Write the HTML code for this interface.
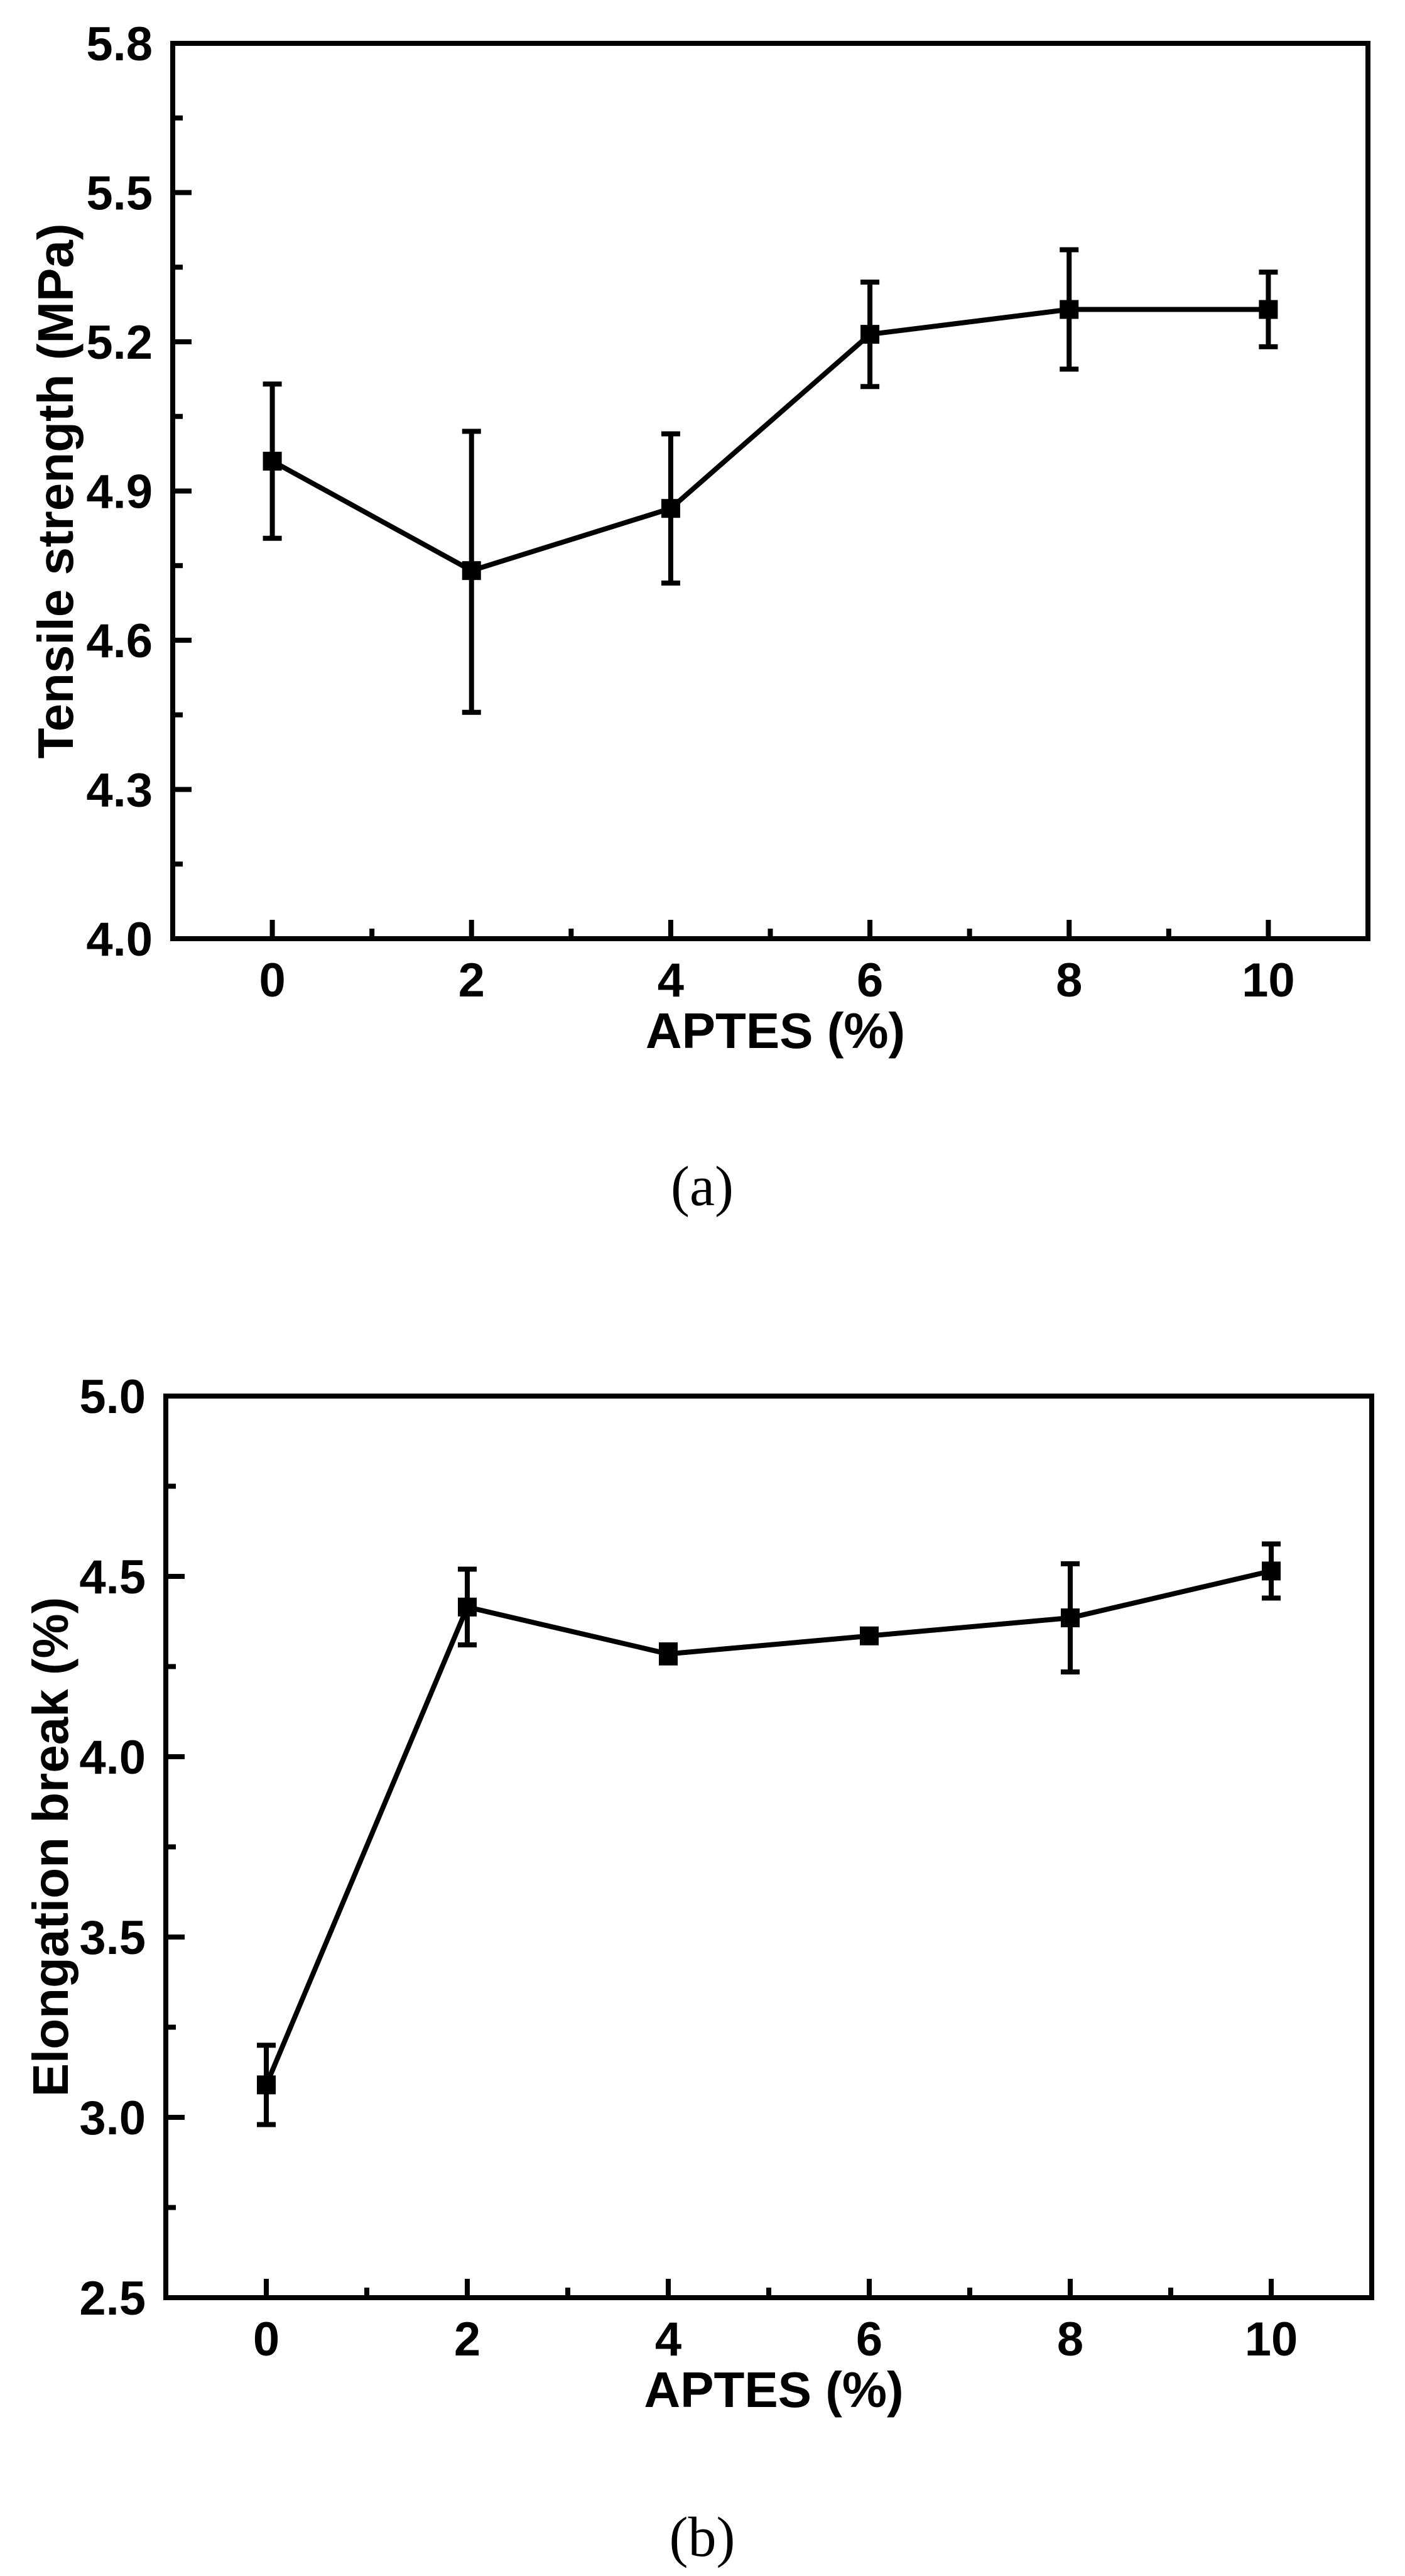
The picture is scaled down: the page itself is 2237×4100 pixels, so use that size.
<!DOCTYPE html>
<html><head><meta charset="utf-8"><style>
html,body{margin:0;padding:0;background:#fff;}
svg{display:block;}
text{font-family:"Liberation Sans",Arial,sans-serif;font-weight:bold;fill:#000;}
.cap{font-family:"Liberation Serif",serif;font-weight:normal;}
</style></head><body>
<svg id="fig" width="2237" height="4100" viewBox="0 0 2237 4100"></svg>
<script>
const xCategories = [0, 2, 4, 6, 8, 10];
const xTickLabels = ["0", "2", "4", "6", "8", "10"];
const tensileValues = [4.96, 4.74, 4.865, 5.215, 5.265, 5.265];
const tensileLow = [4.805, 4.455, 4.715, 5.11, 5.145, 5.19];
const tensileHigh = [5.115, 5.02, 5.015, 5.32, 5.385, 5.34];
const tensileTicks = [4.0, 4.3, 4.6, 4.9, 5.2, 5.5, 5.8];
const tensileTickLabels = ["4.0", "4.3", "4.6", "4.9", "5.2", "5.5", "5.8"];
const elongValues = [3.09, 4.415, 4.285, 4.335, 4.385, 4.515];
const elongLow = [2.98, 4.31, 4.26, 4.32, 4.235, 4.44];
const elongHigh = [3.2, 4.52, 4.31, 4.35, 4.535, 4.59];
const elongTicks = [2.5, 3.0, 3.5, 4.0, 4.5, 5.0];
const elongTickLabels = ["2.5", "3.0", "3.5", "4.0", "4.5", "5.0"];

const NS = "http://www.w3.org/2000/svg";
const svg = document.getElementById("fig");
function mk(tag, attrs, parent, txt) {
  const e = document.createElementNS(NS, tag);
  for (const k in attrs) e.setAttribute(k, attrs[k]);
  if (txt !== undefined) e.textContent = txt;
  (parent || svg).appendChild(e);
  return e;
}

function drawChart(cfg) {
  const g = mk("g", {});
  
  
  const L = cfg.left, R = cfg.right, T = cfg.top, B = cfg.bottom;
  const xs = v => L + (v - (-1)) / 12 * (R - L);
  const ys = v => B - (v - cfg.ymin) / (cfg.ymax - cfg.ymin) * (B - T);
  const fr = mk("rect", {x: L, y: T, width: R - L, height: B - T, fill: "none", stroke: "#000", "stroke-width": 8}, g);
  
  
  const step = cfg.yticks[1] - cfg.yticks[0];
  cfg.yticks.forEach((v, i) => {
    const y = ys(v);
    const t = mk("line", {x1: L, x2: L + 30, y1: y, y2: y, stroke: "#000", "stroke-width": 8}, g);
    
    
    const lb = mk("text", {x: L - 32, y: y + 27, "text-anchor": "end", "font-size": 76}, g, cfg.ylabels[i]);
    
    
    if (i < cfg.yticks.length - 1) {
      const ym = ys(v + step / 2);
      const m = mk("line", {x1: L, x2: L + 16, y1: ym, y2: ym, stroke: "#000", "stroke-width": 8}, g);
      
      
    }
  });
  for (let v = 0; v <= 10; v++) {
    const x = xs(v);
    const major = v % 2 === 0;
    const t = mk("line", {x1: x, x2: x, y1: B, y2: B - (major ? 30 : 16), stroke: "#000", "stroke-width": 8}, g);
    
    
  }
  xCategories.forEach((c, i) => {
    const lb = mk("text", {x: xs(c), y: B + 92, "text-anchor": "middle", "font-size": 76}, g, xTickLabels[i]);
    
    
  });
  const xt = mk("text", {x: (L + R) / 2 + 8, y: B + 174, "text-anchor": "middle", "font-size": 80}, g, "APTES (%)");
  
  
  const yt = mk("text", {x: 0, y: 0, "text-anchor": "middle", "font-size": 80, transform: `translate(${cfg.ytitleX},${(T + B) / 2}) rotate(-90)`}, g, cfg.ytitle);
  
  
  const pts = xCategories.map((c, i) => xs(c) + "," + ys(cfg.vals[i])).join(" ");
  const pl = mk("polyline", {points: pts, fill: "none", stroke: "#000", "stroke-width": 8}, g);
  
  
  xCategories.forEach((c, i) => {
    const x = xs(c);
    const eb = mk("path", {d: `M${x},${ys(cfg.lo[i])}V${ys(cfg.hi[i])}M${x - 15},${ys(cfg.lo[i])}H${x + 15}M${x - 15},${ys(cfg.hi[i])}H${x + 15}`, fill: "none", stroke: "#000", "stroke-width": 8}, g);
    
    
    const mkr = mk("rect", {x: x - 15, y: ys(cfg.vals[i]) - 15, width: 30, height: 30, fill: "#000"}, g);
    
    
  });
  const cp = mk("text", {x: cfg.capX, y: cfg.capY, "text-anchor": "middle", "font-size": 90, class: "cap"}, g, cfg.caption);
  
  
}

drawChart({name: "tensile-strength-chart", left: 275, right: 2178, top: 69, bottom: 1494,
  ymin: 4.0, ymax: 5.8, yticks: tensileTicks, ylabels: tensileTickLabels,
  vals: tensileValues, lo: tensileLow, hi: tensileHigh,
  ytitle: "Tensile strength (MPa)", ytitleX: 116, caption: "(a)", capX: 1118, capY: 1918});
drawChart({name: "elongation-break-chart", left: 264, right: 2184, top: 2222, bottom: 3657,
  ymin: 2.5, ymax: 5.0, yticks: elongTicks, ylabels: elongTickLabels,
  vals: elongValues, lo: elongLow, hi: elongHigh,
  ytitle: "Elongation break (%)", ytitleX: 108, caption: "(b)", capX: 1118, capY: 4068});
</script>
</body></html>
